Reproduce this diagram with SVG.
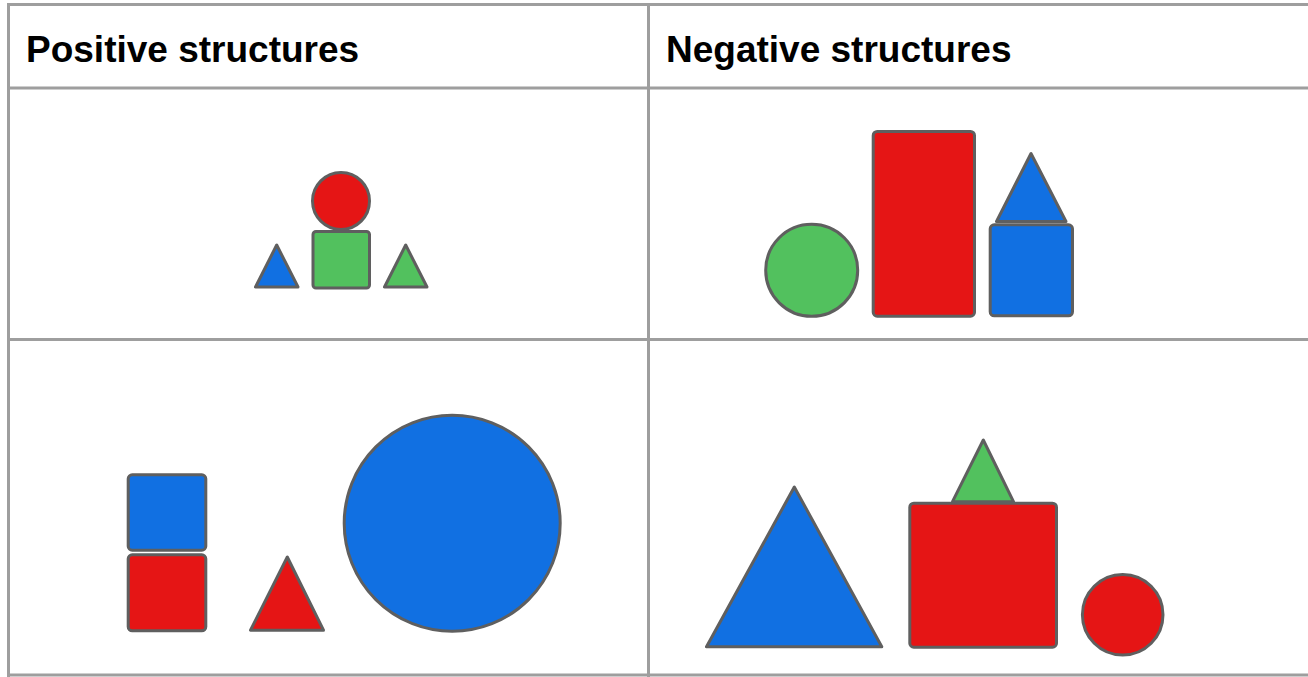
<svg xmlns="http://www.w3.org/2000/svg" width="1308" height="677" viewBox="0 0 1308 677">
<style>
.grid{stroke:#9e9e9e;stroke-width:3;fill:none}
.hdr{font-family:"Liberation Sans",Arial,sans-serif;font-weight:bold;font-size:37px;fill:#000}
.s{stroke:#5f5f5f;stroke-width:3;stroke-linejoin:round}
.r{fill:#e51515}.g{fill:#52c15e}.b{fill:#1170e2}
</style>
<rect width="1308" height="677" fill="#fff"/>
<g id="table">
<line class="grid" x1="7" y1="4.5" x2="1308" y2="4.5"/>
<line class="grid" x1="7" y1="88" x2="1308" y2="88"/>
<line class="grid" x1="7" y1="339.5" x2="1308" y2="339.5"/>
<line class="grid" x1="7" y1="675" x2="1308" y2="675"/>
<line class="grid" x1="8.5" y1="3" x2="8.5" y2="677"/>
<line class="grid" x1="648.5" y1="3" x2="648.5" y2="677"/>
</g>
<g id="header-positive"><text class="hdr" x="26" y="62">Positive structures</text></g>
<g id="header-negative"><text class="hdr" x="666" y="62">Negative structures</text></g>
<g id="positive-1">
<circle class="s r" cx="341" cy="201" r="28.5"/>
<rect class="s g" x="313" y="231.5" width="56.5" height="56.5" rx="3"/>
<polygon class="s b" points="276.7,245 255.5,287 298,287"/>
<polygon class="s g" points="405.7,245 384.5,287 427,287"/>
</g>
<g id="negative-1">
<circle class="s g" cx="811.7" cy="270.3" r="46"/>
<rect class="s r" x="873.2" y="131.5" width="101.3" height="184.7" rx="4"/>
<polygon class="s b" points="1031,153.5 996.5,221.5 1066,221.5"/>
<rect class="s b" x="990.2" y="224.8" width="82.3" height="91" rx="4"/>
</g>
<g id="positive-2">
<rect class="s b" x="128.2" y="474.8" width="77.6" height="75.4" rx="4"/>
<rect class="s r" x="128.2" y="554.8" width="77.6" height="76" rx="4"/>
<polygon class="s r" points="287.3,557 250.5,630.2 323.5,630.2"/>
<circle class="s b" cx="452.2" cy="523.2" r="108"/>
</g>
<g id="negative-2">
<polygon class="s b" points="794.3,487 706.5,646.8 881.8,646.8"/>
<polygon class="s g" points="983.3,440 952.5,501.7 1013.5,501.7"/>
<rect class="s r" x="909.8" y="503.2" width="146.7" height="144" rx="4"/>
<circle class="s r" cx="1122.7" cy="614.7" r="40.3"/>
</g>
</svg>
